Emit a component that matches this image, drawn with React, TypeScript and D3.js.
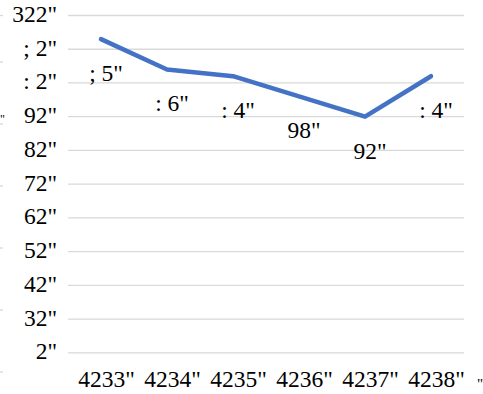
import React from "react";
import * as d3 from "d3";

const categories: string[] = ["4233\"", "4234\"", "4235\"", "4236\"", "4237\"", "4238\""];
const values: number[] = [93, 84, 82, 76, 70, 82];
const valueLabels: string[] = ["; 5\"", ": 6\"", ": 4\"", "98\"", "92\"", ": 4\""];
const yTickValues: number[] = [0, 10, 20, 30, 40, 50, 60, 70, 80, 90, 100];
const yTickLabels: string[] = ["2\"", "32\"", "42\"", "52\"", "62\"", "72\"", "82\"", "92\"", ": 2\"", "; 2\"", "322\""];
const neighbourTicks: number[] = [0, 1, 2, 3, 4, 5, 6];

const W = 483;
const H = 394;
const txt: React.CSSProperties = { fontFamily: '"Liberation Serif"' };
const FS = 23.5;

export default function App() {
  const x = d3.scaleBand<string>().domain(categories).range([68, 464]);
  const y = d3.scaleLinear().domain([0, 100]).range([352.8, 15.5]);
  const line = d3
    .line<number>()
    .x((_, i) => (x(categories[i]) as number) + x.bandwidth() / 2)
    .y((d) => y(d));
  const ny = d3.scaleLinear().domain([0, 6]).range([0, 372]);

  return (
    <svg
      width={W}
      height={H}
      style={{ position: "absolute", left: 0, top: 0, background: "#fff" }}
    >
      {/* fragment of neighbouring chart at left edge */}
      {neighbourTicks.map((t) => (
        <line key={"n" + t} x1={0} x2={3} y1={t === 0 ? 15.5 : ny(t)} y2={t === 0 ? 15.5 : ny(t)} stroke="#d9d9d9" strokeWidth={1.3} />
      ))}
      <text x={0} y={123} fontSize={12} fill="#000" style={txt}>"</text>

      {yTickValues.map((v) => (
        <line key={"g" + v} x1={68} x2={464} y1={y(v)} y2={y(v)} stroke="#d9d9d9" strokeWidth={1.3} />
      ))}
      {yTickValues.map((v, i) => (
        <text key={"yl" + v} x={57} y={y(v) + 6.5} fontSize={FS} textAnchor="end" fill="#000" style={txt}>
          {yTickLabels[i]}
        </text>
      ))}

      <path
        d={line(values) as string}
        fill="none"
        stroke="#4472C4"
        strokeWidth={4.5}
        strokeLinecap="round"
        strokeLinejoin="round"
      />

      {values.map((v, i) => (
        <text
          key={"dl" + i}
          x={(x(categories[i]) as number) + x.bandwidth() / 2 + 5}
          y={y(v) + 42}
          fontSize={FS}
          textAnchor="middle"
          fill="#000"
          style={txt}
        >
          {valueLabels[i]}
        </text>
      ))}

      {categories.map((c) => (
        <text
          key={"xl" + c}
          x={(x(c) as number) + x.bandwidth() / 2 + 5.5}
          y={387}
          fontSize={FS}
          textAnchor="middle"
          fill="#000"
          style={txt}
        >
          {c}
        </text>
      ))}
      <text x={477} y={389} fontSize={15} fill="#000" style={txt}>"</text>
    </svg>
  );
}
